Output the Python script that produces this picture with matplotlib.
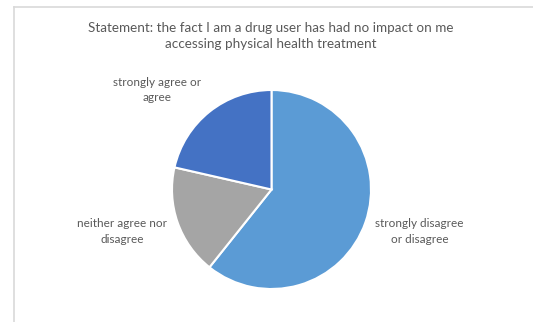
import matplotlib
matplotlib.use("Agg")
import matplotlib.pyplot as plt
from matplotlib.lines import Line2D

plt.rcParams['font.family'] = ['Lato', 'DejaVu Sans']

title = "Statement: the fact I am a drug user has had no impact on me\naccessing physical health treatment"
categories = ["strongly disagree\nor disagree", "neither agree nor\ndisagree", "strongly agree or\nagree"]
counts = [17, 5, 6]
colors = ["#5B9BD5", "#A5A5A5", "#4472C4"]

W, H = 533, 322
fig = plt.figure(figsize=(W / 100, H / 100), dpi=100)
ax = fig.add_axes([0, 0, 1, 1])

ax.pie(counts, colors=colors, startangle=90, counterclock=False,
       center=(271.5, H - 189.5), radius=99.5,
       wedgeprops=dict(edgecolor="white", linewidth=1.5))

# pixel-like coordinate system over the whole canvas
ax.set_xlim(0, W)
ax.set_ylim(0, H)
ax.set_aspect('equal')
ax.axis('off')

# chart frame (top and left edges visible)
fig.add_artist(Line2D([13.5 / W, 13.5 / W], [0, 1 - 6.5 / H], transform=fig.transFigure,
                      color="#D9D9D9", lw=1.2))
fig.add_artist(Line2D([13.5 / W, 1], [1 - 6.5 / H, 1 - 6.5 / H], transform=fig.transFigure,
                      color="#D9D9D9", lw=1.2))

txt = "#595959"
ax.text(271, H - 36, title, ha='center', va='center', fontsize=9.7, color=txt,
        linespacing=1.45)

label_pos = [(419.5, 231.5), (122, 231.5), (157, 90)]
for lab, (x, y) in zip(categories, label_pos):
    ax.text(x, H - y, lab, ha='center', va='center', fontsize=8.5, color=txt,
            linespacing=1.45)

fig.savefig("out.png", dpi=100, facecolor="white")
